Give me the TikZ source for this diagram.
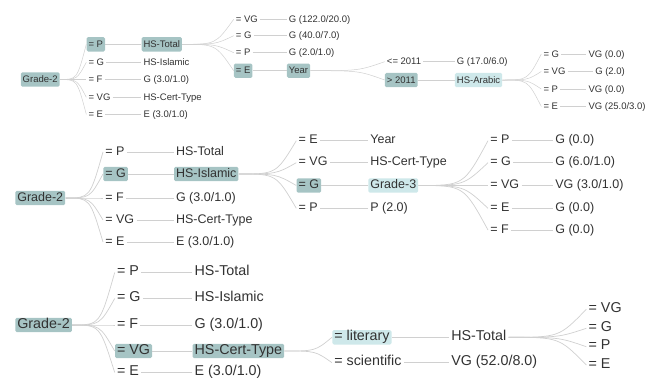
\documentclass[tikz,border=0pt]{standalone}
\usepackage{fontspec}
\setmainfont{Liberation Sans}
\usepackage{tikz}
\usetikzlibrary{calc}
\usepackage{xcolor}
\definecolor{tealbox}{RGB}{166,196,196}
\definecolor{tealpale}{RGB}{206,232,234}
\definecolor{inkgrey}{RGB}{50,50,50}
\definecolor{twiggrey}{RGB}{208,208,208}
\newcommand{\szsmall}{\fontsize{9.5}{11}\selectfont}
\newcommand{\szmid}{\fontsize{12.5}{14}\selectfont}
\newcommand{\szbig}{\fontsize{14.3}{16}\selectfont}
\tikzset{
  leaf/.style={anchor=west,inner xsep=2pt,inner ysep=2pt,text height=0.82em,text depth=0.22em,text=inkgrey},
  hl/.style={leaf,fill=tealbox,rounded corners=1.5pt},
  hlpale/.style={leaf,fill=tealpale,rounded corners=1.5pt},
  twig/.style={draw=twiggrey,to path={.. controls ($(\tikztostart)!0.65!(\tikztotarget |- \tikztostart)$) .. (\tikztotarget)}},
  stem/.style={draw=twiggrey},
}

\begin{document}
\begin{tikzpicture}[x=1pt,y=-1pt]
  \useasboundingbox (0,0) rectangle (654,381);

  % ---- small tree (top) ----
  \begin{scope}[font=\szsmall,line width=0.5pt]
    \node[hl]   (aRoot) at (20.5,79.5) {Grade-2};
    % first split
    \node[hl]   (aP)  at (86.3,44.3)  {= P};
    \node[leaf] (aG)  at (86.3,62.3)  {= G};
    \node[leaf] (aF)  at (86.3,79.5)  {= F};
    \node[leaf] (aVG) at (86.3,97.3)  {= VG};
    \node[leaf] (aE)  at (86.3,114.3) {= E};
    \node[hl]   (aTotal)   at (141.3,44.3)  {HS-Total};
    \node[leaf] (aIslamic) at (141.3,62.3)  {HS-Islamic};
    \node[leaf] (aFres)    at (141.3,79.5)  {G (3.0/1.0)};
    \node[leaf] (aCert)    at (141.3,97.3)  {HS-Cert-Type};
    \node[leaf] (aEres)    at (141.3,114.3) {E (3.0/1.0)};
    % HS-Total split
    \node[leaf] (aTVG) at (233.7,19.3) {= VG};
    \node[leaf] (aTG)  at (233.7,35.7) {= G};
    \node[leaf] (aTP)  at (233.7,52.7) {= P};
    \node[hl]   (aTE)  at (233.7,70.7) {= E};
    \node[leaf] (aTVGres) at (286.7,19.3) {G (122.0/20.0)};
    \node[leaf] (aTGres)  at (286.7,35.7) {G (40.0/7.0)};
    \node[leaf] (aTPres)  at (286.7,52.7) {G (2.0/1.0)};
    \node[hl]   (aYear)   at (286.7,70.7) {Year};
    % Year split
    \node[leaf] (aLow)  at (384.7,61.7) {<= 2011};
    \node[hl]   (aHigh) at (384.7,80)   {> 2011};
    \node[leaf]   (aLowres) at (454.7,61.7) {G (17.0/6.0)};
    \node[hlpale] (aArabic) at (454.7,80)   {HS-Arabic};
    % HS-Arabic split
    \node[leaf] (aAG)  at (541.3,54)   {= G};
    \node[leaf] (aAVG) at (541.3,71.5) {= VG};
    \node[leaf] (aAP)  at (541.3,89)   {= P};
    \node[leaf] (aAE)  at (541.3,106.5){= E};
    \node[leaf] (aAGres)  at (586.3,54)    {VG (0.0)};
    \node[leaf] (aAVGres) at (593,71.5)    {G (2.0)};
    \node[leaf] (aAPres)  at (586.3,89)    {VG (0.0)};
    \node[leaf] (aAEres)  at (586.3,106.5) {VG (25.0/3.0)};
    % connectors
    \foreach \c in {aP,aG,aF,aVG,aE}
      \draw[twig] (aRoot.east) to (\c.west);
    \foreach \c in {aTVG,aTG,aTP,aTE}
      \draw[twig] (aTotal.east) to (\c.west);
    \foreach \c in {aLow,aHigh}
      \draw[twig] (aYear.east) to (\c.west);
    \foreach \c in {aAG,aAVG,aAP,aAE}
      \draw[twig] (aArabic.east) to (\c.west);
    \foreach \a/\b in {aP/aTotal,aG/aIslamic,aF/aFres,aVG/aCert,aE/aEres,
        aTVG/aTVGres,aTG/aTGres,aTP/aTPres,aTE/aYear,aLow/aLowres,aHigh/aArabic,
        aAG/aAGres,aAVG/aAVGres,aAP/aAPres,aAE/aAEres}
      \draw[stem] (\a) -- (\b);
  \end{scope}

  % ---- middle tree ----
  \begin{scope}[font=\szmid,line width=0.7pt]
    \node[hl]   (bRoot) at (15,198) {Grade-2};
    % first split
    \node[leaf] (bP)  at (103,152) {= P};
    \node[hl]   (bG)  at (103,174) {= G};
    \node[leaf] (bF)  at (103,198) {= F};
    \node[leaf] (bVG) at (103,220) {= VG};
    \node[leaf] (bE)  at (103,242) {= E};
    \node[leaf] (bTotal)   at (173.7,152) {HS-Total};
    \node[hl]   (bIslamic) at (173.7,174) {HS-Islamic};
    \node[leaf] (bFres)    at (173.7,198) {G (3.0/1.0)};
    \node[leaf] (bCert)    at (173.7,220) {HS-Cert-Type};
    \node[leaf] (bEres)    at (173.7,242) {E (3.0/1.0)};
    % HS-Islamic split
    \node[leaf] (bIE)  at (296.3,140.7) {= E};
    \node[leaf] (bIVG) at (296.3,162.7) {= VG};
    \node[hl]   (bIG)  at (296.3,185.5) {= G};
    \node[leaf] (bIP)  at (296.3,208.3) {= P};
    \node[leaf]   (bYear)   at (368,140.7) {Year};
    \node[leaf]   (bCert2)  at (368,162.7) {HS-Cert-Type};
    \node[hlpale] (bGrade3) at (368,185.5) {Grade-3};
    \node[leaf]   (bIPres)  at (368,208.3) {P (2.0)};
    % Grade-3 split
    \node[leaf] (bSP)  at (488,140.7) {= P};
    \node[leaf] (bSG)  at (488,162.7) {= G};
    \node[leaf] (bSVG) at (488,185.5) {= VG};
    \node[leaf] (bSE)  at (488,208.3) {= E};
    \node[leaf] (bSF)  at (488,230)   {= F};
    \node[leaf] (bSPres)  at (553,140.7) {G (0.0)};
    \node[leaf] (bSGres)  at (553,162.7) {G (6.0/1.0)};
    \node[leaf] (bSVGres) at (553,185.5) {VG (3.0/1.0)};
    \node[leaf] (bSEres)  at (553,208.3) {G (0.0)};
    \node[leaf] (bSFres)  at (553,230)   {G (0.0)};
    % connectors
    \foreach \c in {bP,bG,bF,bVG,bE}
      \draw[twig] (bRoot.east) to (\c.west);
    \foreach \c in {bIE,bIVG,bIG,bIP}
      \draw[twig] (bIslamic.east) to (\c.west);
    \foreach \c in {bSP,bSG,bSVG,bSE,bSF}
      \draw[twig] (bGrade3.east) to (\c.west);
    \foreach \a/\b in {bP/bTotal,bG/bIslamic,bF/bFres,bVG/bCert,bE/bEres,
        bIE/bYear,bIVG/bCert2,bIG/bGrade3,bIP/bIPres,
        bSP/bSPres,bSG/bSGres,bSVG/bSVGres,bSE/bSEres,bSF/bSFres}
      \draw[stem] (\a) -- (\b);
  \end{scope}

  % ---- large tree (bottom) ----
  \begin{scope}[font=\szbig,line width=0.7pt]
    \node[hl]   (cRoot) at (15,325) {Grade-2};
    % first split
    \node[leaf] (cP)  at (114.7,272.5) {= P};
    \node[leaf] (cG)  at (114.7,298.5) {= G};
    \node[leaf] (cF)  at (114.7,325)   {= F};
    \node[hl]   (cVG) at (114.7,351)   {= VG};
    \node[leaf] (cE)  at (114.7,372.5) {= E};
    \node[leaf] (cTotal)   at (192.3,272.5) {HS-Total};
    \node[leaf] (cIslamic) at (192.3,298.5) {HS-Islamic};
    \node[leaf] (cFres)    at (192.3,325)   {G (3.0/1.0)};
    \node[hl]   (cCert)    at (192.3,351)   {HS-Cert-Type};
    \node[leaf] (cEres)    at (192.3,372.5) {E (3.0/1.0)};
    % HS-Cert-Type split
    \node[hlpale] (cLit) at (332,337.3) {= literary};
    \node[leaf]   (cSci) at (332,362.7) {= scientific};
    \node[leaf] (cTotal2) at (449,337.3) {HS-Total};
    \node[leaf] (cScires) at (449,362.7) {VG (52.0/8.0)};
    % HS-Total split
    \node[leaf] (cHVG) at (586.3,309.3) {= VG};
    \node[leaf] (cHG)  at (586.3,328.3) {= G};
    \node[leaf] (cHP)  at (586.3,346.7) {= P};
    \node[leaf] (cHE)  at (586.3,365)   {= E};
    % connectors
    \foreach \c in {cP,cG,cF,cVG,cE}
      \draw[twig] (cRoot.east) to (\c.west);
    \foreach \c in {cLit,cSci}
      \draw[twig] (cCert.east) to (\c.west);
    \foreach \c in {cHVG,cHG,cHP,cHE}
      \draw[twig] (cTotal2.east) to (\c.west);
    \foreach \a/\b in {cP/cTotal,cG/cIslamic,cF/cFres,cVG/cCert,cE/cEres,
        cLit/cTotal2,cSci/cScires}
      \draw[stem] (\a) -- (\b);
  \end{scope}
\end{tikzpicture}
\end{document}
